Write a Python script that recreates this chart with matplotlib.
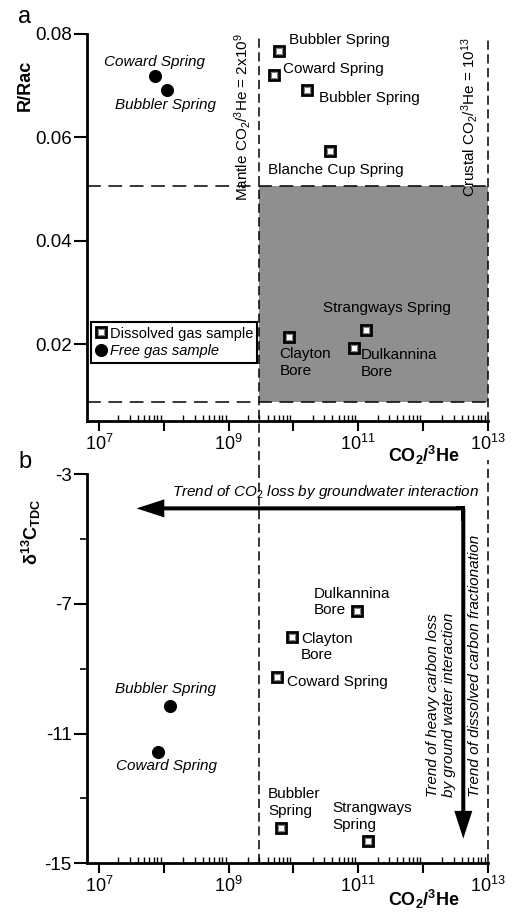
import numpy as np
import matplotlib
matplotlib.use('Agg')
import matplotlib.pyplot as plt
from matplotlib.lines import Line2D
from matplotlib.patches import Rectangle
from matplotlib.ticker import FixedLocator, FuncFormatter, NullFormatter

plt.rcParams['font.family'] = ['Liberation Sans', 'DejaVu Sans']
plt.rcParams['mathtext.fontset'] = 'custom'
plt.rcParams['mathtext.rm'] = 'Liberation Sans'
plt.rcParams['mathtext.it'] = 'Liberation Sans:italic'
plt.rcParams['mathtext.bf'] = 'Liberation Sans:bold'

# ---- panel a : R/Rac vs CO2/3He ----
a_dis_names = ['Bubbler Spring', 'Coward Spring', 'Bubbler Spring', 'Blanche Cup Spring',
               'Strangways Spring', 'Clayton\nBore', 'Dulkannina\nBore']
a_dis_x = [5.98e9, 5.1e9, 1.64e10, 3.72e10, 1.32e11, 8.65e9, 8.5e10]
a_dis_y = [0.0768, 0.0720, 0.0692, 0.0574, 0.0228, 0.0213, 0.0193]

a_free_names = ['Coward Spring', 'Bubbler Spring']
a_free_x = [7.35e7, 1.14e8]
a_free_y = [0.0719, 0.0692]

# ---- panel b : d13C vs CO2/3He ----
b_dis_names = ['Dulkannina\nBore', 'Clayton\nBore', 'Coward Spring', 'Bubbler\nSpring', 'Strangways\nSpring']
b_dis_x = [9.6e10, 9.7e9, 5.57e9, 6.5e9, 1.44e11]
b_dis_y = [-7.22, -8.03, -9.26, -13.9, -14.32]

b_free_names = ['Bubbler Spring', 'Coward Spring']
b_free_x = [1.25e8, 8.26e7]
b_free_y = [-10.16, -11.56]

# reference ratios and the crustal box
mantle_ratio = 3e9
crustal_ratio = 1e13
box_y = [0.00875, 0.0505]

# trend arrows (corner, left end, bottom end)
corner = (4.2e12, -4.06)
arrow_left_x = 3.8e7
arrow_bottom_y = -14.24

# label offsets in points (dx, dy)
a_dis_off = [(7.2, 7.7), (6.5, 4.5), (8.1, -5.8), (-44.9, -14.2), (-31.2, 15.3), (-7, -18.2), (5.5, -11.5)]
a_free_off = [(-0.7, 10.3), (-1.2, -11)]
b_dis_off = [(-31.2, 6.5), (6.3, -7), (7.2, -3.8), (-9.6, 18.2), (-26.1, 17.8)]
b_free_off = [(-3.1, 12.5), (5.5, -10.6)]

xlim = (10 ** 6.815, 1e13)
major_x = [10.0 ** k for k in range(7, 14)]
minor_x = [m * 10.0 ** k for k in range(7, 13) for m in range(2, 10)]

fig = plt.figure(figsize=(5.12, 9.16), dpi=100)
ax1 = fig.add_axes([87 / 512, 1 - 421 / 916, 400.7 / 512, 387 / 916])
ax2 = fig.add_axes([87 / 512, 1 - 863.3 / 916, 400.7 / 512, 389.3 / 916])

# open squares: black frame with a thin grey inner ring
sq_style = dict(marker='s', ms=6.6, mfc='white', mec='black', mew=2.0, ls='none', zorder=5)
sq_inner = dict(marker='s', ms=3.9, mfc='white', mec='#7a7a7a', mew=0.7, ls='none', zorder=6)
ci_style = dict(marker='o', ms=8.6, mfc='black', mec='black', mew=0.8, ls='none', zorder=5)


def style_axis(ax):
    ax.set_xscale('log')
    ax.set_xlim(*xlim)
    for s in ['top', 'right']:
        ax.spines[s].set_visible(False)
    for s in ['left', 'bottom']:
        ax.spines[s].set_linewidth(2)
    ax.xaxis.set_major_locator(FixedLocator(major_x))
    ax.xaxis.set_minor_locator(FixedLocator(minor_x))
    ax.xaxis.set_major_formatter(FuncFormatter(
        lambda v, p: r'$10^{%d}$' % round(np.log10(v)) if round(np.log10(v)) % 2 == 1 else ''))
    ax.xaxis.set_minor_formatter(NullFormatter())
    ax.tick_params(axis='x', which='major', direction='out', length=7, width=1.5, labelsize=13, pad=2)
    ax.tick_params(axis='x', which='minor', direction='in', length=4.5, width=1)
    ax.tick_params(axis='y', which='major', direction='out', length=9.5, width=1.5, labelsize=13.5, pad=1.5)
    ax.tick_params(axis='y', which='minor', direction='out', length=5, width=1.2)


# ---------------- panel a ----------------
style_axis(ax1)
ax1.set_ylim(0.0051, 0.08)
ax1.set_yticks([0.02, 0.04, 0.06, 0.08])
ax1.set_yticklabels(['0.02', '0.04', '0.06', '0.08'])

ax1.add_patch(Rectangle((mantle_ratio, box_y[0]), crustal_ratio - mantle_ratio, box_y[1] - box_y[0],
                        facecolor='#8f8f8f', edgecolor='none', zorder=0))
for yy in box_y:
    ax1.plot([xlim[0], crustal_ratio], [yy, yy], color='k', lw=1.1, dashes=(9, 5), zorder=1)
ax1.axvline(mantle_ratio, ymin=-0.137, ymax=1, color='k', lw=1.1, dashes=(6, 3), clip_on=False, zorder=1)
ax1.axvline(crustal_ratio, ymin=0, ymax=0.99, color='k', lw=1.1, dashes=(6, 3), clip_on=False, zorder=1)

ax1.plot(a_dis_x, a_dis_y, **sq_style)
ax1.plot(a_dis_x, a_dis_y, **sq_inner)
ax1.plot(a_free_x, a_free_y, **ci_style)
for n, x, y, o in zip(a_dis_names, a_dis_x, a_dis_y, a_dis_off):
    ax1.annotate(n, (x, y), xytext=o, textcoords='offset points', ha='left', va='center',
                 fontsize=11, linespacing=1.25)
for n, x, y, o in zip(a_free_names, a_free_x, a_free_y, a_free_off):
    ax1.annotate(n, (x, y), xytext=o, textcoords='offset points', ha='center', va='center',
                 fontsize=11, style='italic')

ax1.annotate(r'Mantle CO$_2$/$^3$He = 2x10$^9$', (mantle_ratio, 0.08), xytext=(-5, 0.7),
             textcoords='offset points', rotation=90, ha='right', va='top', fontsize=11)
ax1.annotate(r'Crustal CO$_2$/$^3$He = 10$^{13}$', (crustal_ratio, 0.08), xytext=(-5.5, -2),
             textcoords='offset points', rotation=90, ha='right', va='top', fontsize=11)

handles = [(Line2D([], [], marker='s', ms=6.6, mfc='white', mec='black', mew=2, ls='none'),
            Line2D([], [], marker='s', ms=3.9, mfc='white', mec='#7a7a7a', mew=0.7, ls='none')),
           Line2D([], [], marker='o', ms=8.6, mfc='black', mec='black', mew=0.8, ls='none')]
leg = ax1.legend(handles, ['Dissolved gas sample', 'Free gas sample'], loc='lower left',
                 bbox_to_anchor=(0.009, 0.151), borderaxespad=0, fontsize=10.5, frameon=True,
                 fancybox=False, edgecolor='black', framealpha=1, handlelength=0.8,
                 handletextpad=0.2, borderpad=0.3, labelspacing=0.25)
leg.get_frame().set_linewidth(1.5)
leg.get_texts()[1].set_style('italic')

ax1.text(-0.155, 0.866, 'R/Rac', transform=ax1.transAxes, rotation=90, ha='center', va='center',
         fontsize=13, fontweight='bold')
ax1.text(0.841, -0.090, r'CO$_\mathbf{2}$/$^\mathbf{3}$He', transform=ax1.transAxes, ha='center',
         va='center', fontsize=13, fontweight='bold')

# ---------------- panel b ----------------
style_axis(ax2)
ax2.set_ylim(-15, -3)
ax2.set_yticks([-15, -11, -7, -3])
ax2.set_yticks([-13, -9, -5], minor=True)
ax2.set_yticklabels(['-15', '-11', '-7', '-3'])

ax2.axvline(mantle_ratio, ymin=0, ymax=1, color='k', lw=1.1, dashes=(6, 3), zorder=1)
ax2.axvline(crustal_ratio, ymin=0, ymax=1.036, color='k', lw=1.1, dashes=(6, 3), clip_on=False, zorder=1)

ax2.plot(b_dis_x, b_dis_y, **sq_style)
ax2.plot(b_dis_x, b_dis_y, **sq_inner)
ax2.plot(b_free_x, b_free_y, **ci_style)
for n, x, y, o in zip(b_dis_names, b_dis_x, b_dis_y, b_dis_off):
    ax2.annotate(n, (x, y), xytext=o, textcoords='offset points', ha='left', va='center',
                 fontsize=11, linespacing=1.25)
for n, x, y, o in zip(b_free_names, b_free_x, b_free_y, b_free_off):
    ax2.annotate(n, (x, y), xytext=o, textcoords='offset points', ha='center', va='center',
                 fontsize=11, style='italic')

# trend arrows
arr = dict(arrowstyle='simple,head_length=2.0,head_width=1.3,tail_width=0.29', mutation_scale=10,
           fc='black', ec='none', shrinkA=0, shrinkB=0)
ax2.annotate('', xy=(arrow_left_x, corner[1]), xytext=corner, arrowprops=arr, zorder=6)
ax2.annotate('', xy=(corner[0], arrow_bottom_y), xytext=corner, arrowprops=arr, zorder=6)
ax2.plot([corner[0] / 1.3, corner[0], corner[0]], [corner[1], corner[1], corner[1] - 0.4],
         color='k', lw=2.9, solid_joinstyle='miter', solid_capstyle='butt', zorder=6)

ax2.annotate(r'Trend of CO$_2$ loss by groundwater interaction', corner, xytext=(11, 12),
             textcoords='offset points', ha='right', va='center', fontsize=11, style='italic')
ax2.annotate('Trend of heavy carbon loss\nby ground water interaction', corner, xytext=(-16, -141.6),
             textcoords='offset points', ha='center', va='center', rotation=90, fontsize=11,
             style='italic', linespacing=1.15)
ax2.annotate('Trend of dissolved carbon fractionation', corner, xytext=(8.6, -113.5),
             textcoords='offset points', ha='center', va='center', rotation=90, fontsize=11,
             style='italic')

ax2.text(-0.138, 0.851, r'δ$^\mathbf{13}$C$_\mathbf{TDC}$', transform=ax2.transAxes, rotation=90,
         ha='center', va='center', fontsize=13, fontweight='bold')
ax2.text(0.841, -0.094, r'CO$_\mathbf{2}$/$^\mathbf{3}$He', transform=ax2.transAxes, ha='center',
         va='center', fontsize=13, fontweight='bold')

# panel letters
fig.text(0.047, 0.981, 'a', fontsize=17, ha='center', va='center')
fig.text(0.049, 0.4956, 'b', fontsize=17, ha='center', va='center')

fig.savefig('out.png', dpi=100)
